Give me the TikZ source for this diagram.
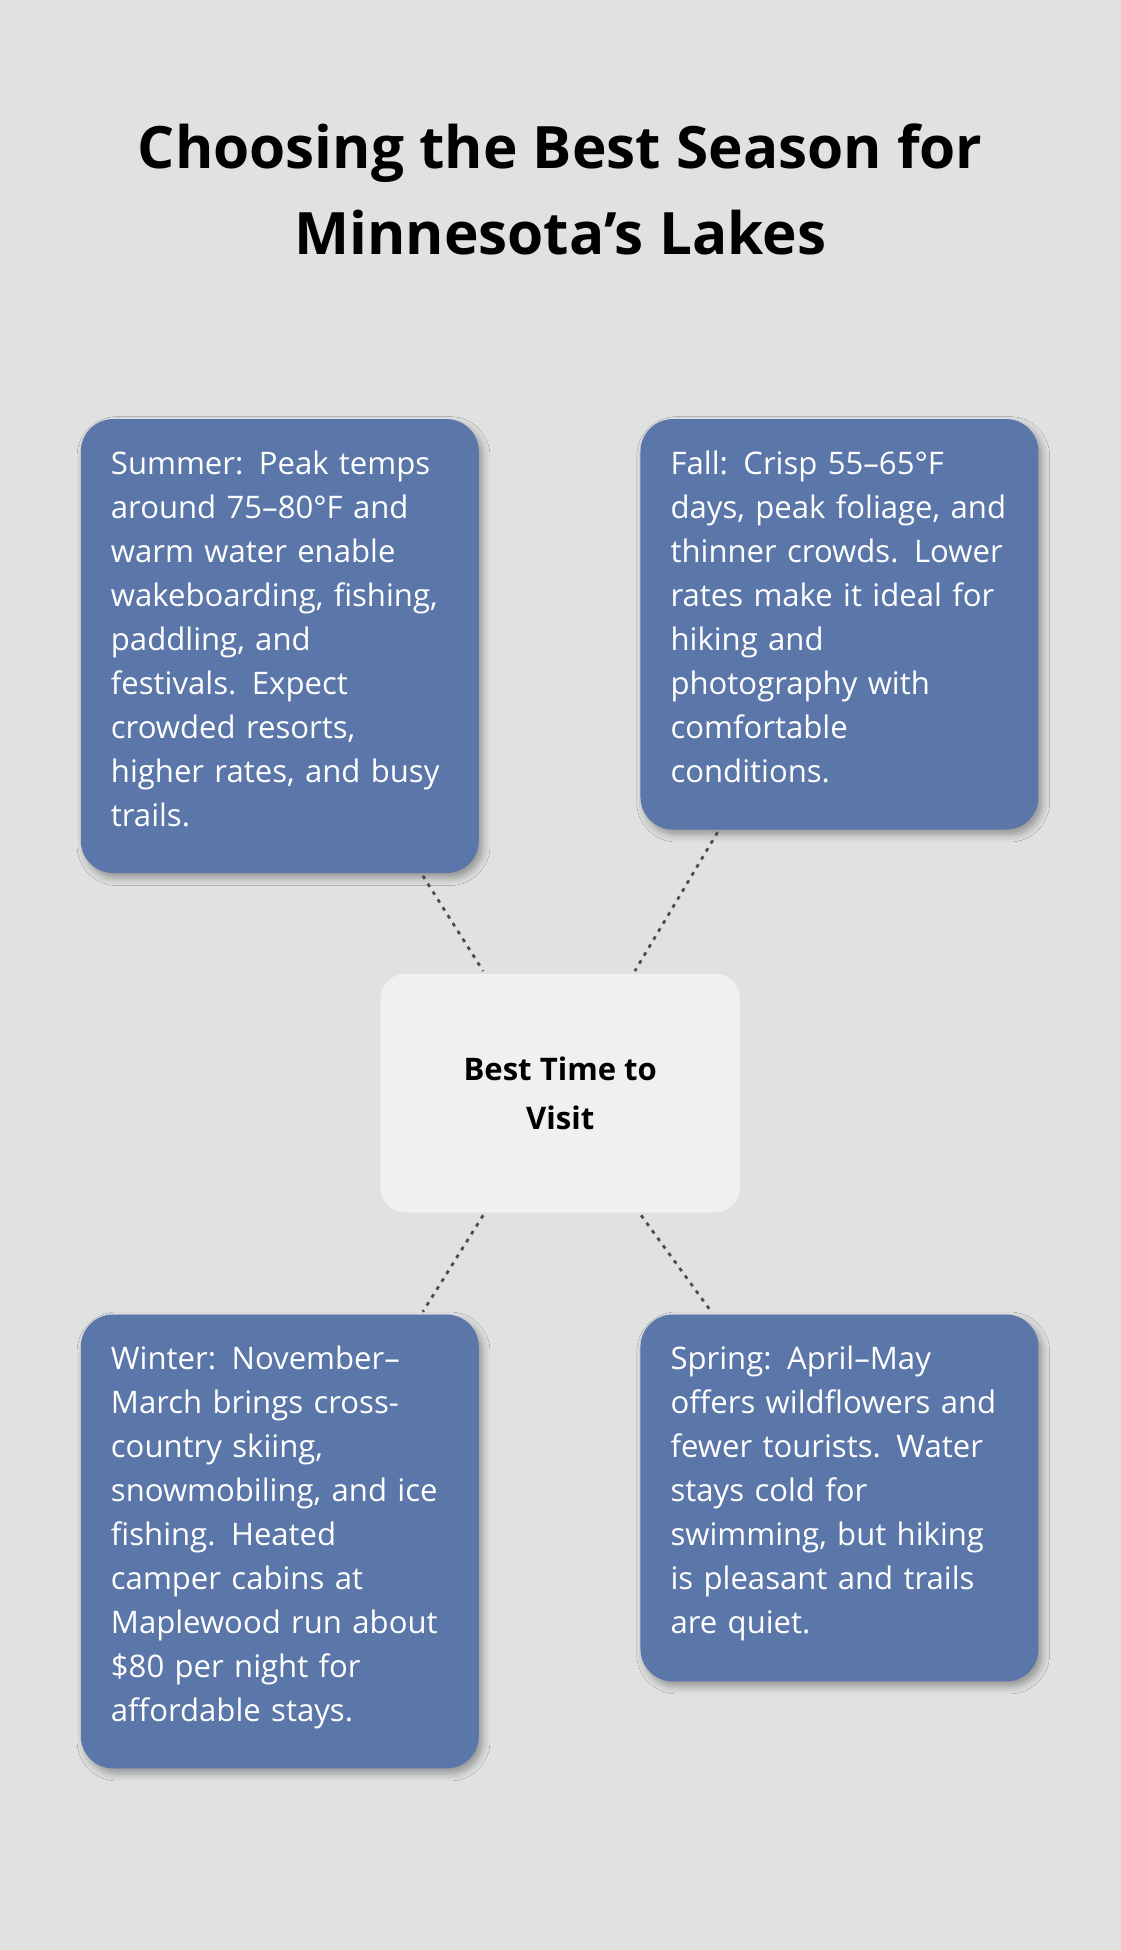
\documentclass[tikz,border=0pt]{standalone}
\usepackage{fontspec}
\setmainfont{Open Sans}
\usetikzlibrary{calc,shadows.blur}
\definecolor{bgc}{HTML}{E0E1E1}
\definecolor{boxc}{HTML}{5B76A8}
\definecolor{hubc}{HTML}{EFF0F2}
\tikzset{
  season/.style={draw=none,fill=boxc,rounded corners=26pt,minimum width=320pt,
    blur shadow={shadow xshift=3pt,shadow yshift=-4pt,shadow blur radius=6pt,shadow opacity=35}},
  seatext/.style={anchor=north west,inner sep=0pt,text width=280pt,align=left,
    text=white,font=\fontsize{25}{35.4}\selectfont},
  link/.style={draw=black!70,line width=2.2pt,dash pattern=on 3pt off 4.5pt}
}
\begin{document}
\begin{tikzpicture}[x=1pt,y=-1pt]
  \fill[bgc] (0,0) rectangle (901,1568);
  \node[font=\fontsize{47}{69}\selectfont\bfseries,align=center] (title) at (450.5,152)
    {Choosing the Best Season for\\Minnesota's Lakes};
  % season boxes
  \node[season,minimum height=365pt] (summer) at (225,519.5) {};
  \node[season,minimum height=330pt] (fall) at (675,502) {};
  \node[season,minimum height=365pt] (winter) at (225,1239.5) {};
  \node[season,minimum height=295pt] (spring) at (675,1204.5) {};
  \node[fill=hubc,rounded corners=20pt,minimum width=289pt,minimum height=192pt,
    font=\fontsize{25}{39}\selectfont\bfseries,align=center] (hub) at (450.5,879) {Best Time to\\Visit};
  \node[seatext] (sumtxt) at (89,362) {Summer: Peak temps\\around 75–80°F and\\warm water enable\\wakeboarding, fishing,\\paddling, and\\festivals. Expect\\crowded resorts,\\higher rates, and busy\\trails.};
  \node[seatext] (falltxt) at (539,362) {Fall: Crisp 55–65°F\\days, peak foliage, and\\thinner crowds. Lower\\rates make it ideal for\\hiking and\\photography with\\comfortable\\conditions.};
  \node[seatext] (wintxt) at (89,1082) {Winter: November–\\March brings cross-\\country skiing,\\snowmobiling, and ice\\fishing. Heated\\camper cabins at\\Maplewood run about\\\$80 per night for\\affordable stays.};
  \node[seatext] (sprtxt) at (539,1082) {Spring: April–May\\offers wildflowers and\\fewer tourists. Water\\stays cold for\\swimming, but hiking\\is pleasant and trails\\are quiet.};
  % dotted links
  \draw[link] ($(summer.south)+(115,2)$) -- ($(hub.north)+(-62,-2)$);
  \draw[link] ($(fall.south)+(-98,2)$) -- ($(hub.north)+(60,-2)$);
  \draw[link] ($(hub.south)+(-62,2)$) -- ($(winter.north)+(115,-2)$);
  \draw[link] ($(hub.south)+(65,2)$) -- ($(spring.north)+(-103,-2)$);
\end{tikzpicture}
\end{document}
